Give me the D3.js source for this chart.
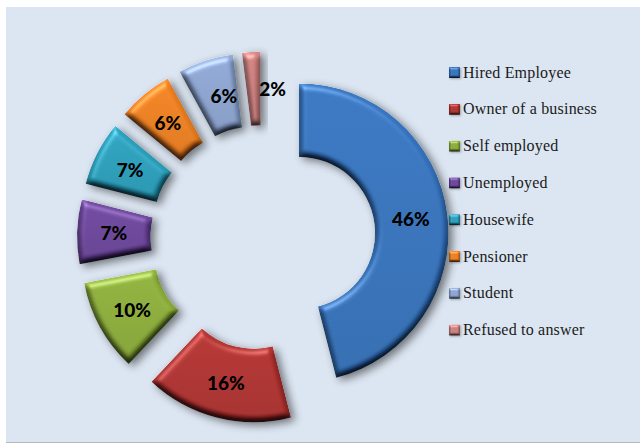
<!DOCTYPE html>
<html lang="en">
<head>
<meta charset="UTF-8">
<title>Occupation</title>
<script src="https://cdn.jsdelivr.net/npm/d3@7"></script>
<style>
    html, body { margin: 0; padding: 0; background: #fff; }
    svg { display: block; }
    .pct { font-family: Lato, sans-serif; font-weight: 900; font-size: 19px; fill: #000; }
    .leg { font-family: "Liberation Serif", serif; font-size: 16px; letter-spacing: 0.2px; fill: #1a1a1a; }
</style>
</head>
<body>
<svg width="640" height="444"></svg>
<script>
    // values
    const categories = ["Hired Employee", "Owner of a business", "Self employed", "Unemployed",
        "Housewife", "Pensioner", "Student", "Refused to answer"];
    const shares = [46, 16, 10, 7, 7, 6, 6, 2];
    const colors = ["#3b76bd", "#b03836", "#8eae3f", "#6f4a9c", "#30a0bc", "#ec8226", "#8ea6d0", "#cc8280"];

    const svg = d3.select("svg");
    const W = 640, H = 444;

    // bevel + drop shadow, close to the office "angle" effect
    const defs = svg.append("defs");
    function bevel(id, blur, scale, flat, shadowBlur, dx, dy, shadowA) {
        const f = defs.append("filter").attr("id", id)
            .attr("x", "-25%").attr("y", "-25%").attr("width", "160%").attr("height", "160%")
            .attr("color-interpolation-filters", "sRGB");
        f.append("feGaussianBlur").attr("in", "SourceAlpha").attr("stdDeviation", blur).attr("result", "h");
        // darkening from the slopes facing away from the light
        const dark = f.append("feDiffuseLighting").attr("in", "h").attr("surfaceScale", scale)
            .attr("diffuseConstant", 1.22).attr("lighting-color", "#fff").attr("result", "lit");
        dark.append("feDistantLight").attr("azimuth", 270).attr("elevation", 55);
        f.append("feBlend").attr("in", "SourceGraphic").attr("in2", "lit").attr("mode", "multiply").attr("result", "body");
        // highlight from the slopes facing it, flat parts cancelled by k4
        const spec = f.append("feSpecularLighting").attr("in", "h").attr("surfaceScale", scale)
            .attr("specularConstant", 0.55).attr("specularExponent", 14).attr("lighting-color", "#fff").attr("result", "sp");
        spec.append("feDistantLight").attr("azimuth", 250).attr("elevation", 42);
        f.append("feComposite").attr("in", "body").attr("in2", "sp").attr("operator", "arithmetic")
            .attr("k1", 0).attr("k2", 1).attr("k3", 0.6).attr("k4", -flat).attr("result", "both");
        f.append("feComposite").attr("in", "both").attr("in2", "SourceAlpha").attr("operator", "in").attr("result", "shape");
        f.append("feGaussianBlur").attr("in", "SourceAlpha").attr("stdDeviation", shadowBlur).attr("result", "sb");
        f.append("feOffset").attr("in", "sb").attr("dx", dx).attr("dy", dy).attr("result", "so");
        f.append("feComponentTransfer").attr("in", "so").attr("result", "sh")
            .append("feFuncA").attr("type", "linear").attr("slope", shadowA);
        const m = f.append("feMerge");
        m.append("feMergeNode").attr("in", "sh");
        m.append("feMergeNode").attr("in", "shape");
    }
    bevel("bev", 3, 4, 0.09, 4, 4, 3, 0.5);
    bevel("bevSmall", 1, 1.6, 0.09, 0.8, 0.5, 0.5, 0.3);

    // vertical shade on each colour
    colors.forEach((c, i) => {
        const g = defs.append("linearGradient").attr("id", "shade" + i).attr("x1", 0).attr("y1", 0).attr("x2", 0).attr("y2", 1);
        g.append("stop").attr("offset", 0).attr("stop-color", d3.color(c).brighter(0.12));
        g.append("stop").attr("offset", 1).attr("stop-color", d3.color(c).darker(0.15));
    });

    // card
    svg.append("rect").attr("x", 6).attr("y", 8).attr("width", W - 6).attr("height", H - 9).attr("fill", "#8f8f8f");
    svg.append("rect").attr("x", 6).attr("y", 7).attr("width", W - 6).attr("height", H - 8.5).attr("fill", "#dce6f2");

    // ring
    const center = [262.9, 237.5], explode = 36.4;
    const outerR = 149.5, innerR = 76;
    const pie = d3.pie().sort(null).value(d => d.v);
    const arc = d3.arc().innerRadius(innerR).outerRadius(outerR);
    const rows = categories.map((c, i) => ({ c, v: shares[i], idx: i }));
    const arcs = pie(rows);

    // wedge is pushed out along its bisector
    function shift(d) {
        const a = (d.startAngle + d.endAngle) / 2;
        return [center[0] + explode * Math.sin(a), center[1] - explode * Math.cos(a)];
    }

    svg.append("g").selectAll("path").data(arcs).enter().append("path")
        .attr("transform", d => "translate(" + shift(d) + ")")
        .attr("d", arc)
        .attr("fill", d => "url(#shade" + d.data.idx + ")")
        .attr("filter", "url(#bev)");

    // two small labels don't sit on the ring centre in the original
    const labelNudge = { "Student": 7, "Refused to answer": 19 };
    svg.append("g").selectAll("text").data(arcs).enter().append("text")
        .attr("class", "pct")
        .attr("text-anchor", "middle")
        .attr("dy", "0.35em")
        .attr("transform", d => {
            const s = shift(d), p = arc.centroid(d);
            return "translate(" + (s[0] + p[0] + (labelNudge[d.data.c] || 0)) + "," + (s[1] + p[1] + 1) + ")";
        })
        .text(d => d.data.v + "%");

    // legend
    const legY = d3.scalePoint().domain(categories).range([72.5, 330]);
    const leg = svg.append("g").selectAll("g").data(rows).enter().append("g")
        .attr("transform", d => "translate(449," + legY(d.c) + ")");
    leg.append("rect").attr("x", 0).attr("y", -5.5).attr("width", 11).attr("height", 11)
        .attr("fill", d => colors[d.idx]).attr("filter", "url(#bevSmall)");
    leg.append("text").attr("class", "leg").attr("x", 14).attr("dy", "0.32em").text(d => d.c);
</script>
</body>
</html>
